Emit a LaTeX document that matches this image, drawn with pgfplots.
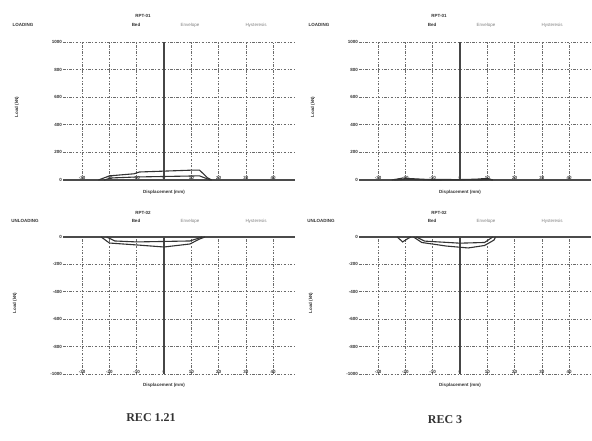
\documentclass[border=0pt]{standalone}
\usepackage{fontspec}
\setmainfont{Liberation Serif}
\setsansfont{Liberation Sans}
\usepackage{pgfplots}
\pgfplotsset{compat=1.18}

\definecolor{ink}{gray}{0.2}
\definecolor{gridc}{gray}{0.42}

\newcommand{\tinyfont}{\fontsize{4.5}{4.5}\selectfont\sffamily\bfseries}

\pgfplotsset{
  panel/.style={
    scale only axis, anchor=south west,
    width=232pt, height=138pt,
    xmin=-37, xmax=48,
    xtick={-30,-20,-10,0,10,20,30,40},
    axis line style={draw=none},
    major tick style={draw=none},
    grid=major,
    grid style={gridc, dash pattern=on 2.5pt off 1.5pt on 0.8pt off 1.5pt, line width=0.7pt},
    tick label style={font=\tinyfont, text=ink},
    /pgf/number format/assume math mode=true,
    /pgf/number format/1000 sep={},
    xticklabel style={yshift=4pt, inner sep=0.5pt},
    yticklabel style={inner sep=1pt},
    clip=false,
  },
  curve/.style={ink, line width=1.1pt, no marks},
  base/.style={gridc!70!black, line width=1.3pt, no marks},
  zero/.style={gray!55!black, line width=1.6pt, no marks},
}

\begin{document}
\begin{tikzpicture}[x=1pt,y=1pt]
\path[use as bounding box] (0,0) rectangle (592,440);

% ---- loading, REC 1.21 ----
\begin{axis}[panel, at={(63pt,260pt)}, ymin=0, ymax=1000, ytick={0,200,400,600,800,1000}]
\addplot[base] coordinates {(-37,0) (48,0)};
\addplot[zero] coordinates {(0,0) (0,1000)};
\addplot[curve] coordinates {(-24,0) (-20,30) (-11,45) (-9,58) (11,72) (13,72) (16,15) (17.5,0)};
\addplot[curve] coordinates {(-22,0) (-19,15) (-10,22) (13,30) (17,0)};
\end{axis}

% ---- loading, REC 3 ----
\begin{axis}[panel, at={(359pt,260pt)}, ymin=0, ymax=1000, ytick={0,200,400,600,800,1000}]
\addplot[base] coordinates {(-37,0) (48,0)};
\addplot[zero] coordinates {(0,0) (0,1000)};
\addplot[curve] coordinates {(-25,0) (-21,14) (-18,10) (-12,4) (0,3) (6,6) (10,12) (12,0)};
\addplot[curve] coordinates {(-24,0) (-20,6) (-10,0) (8,2) (11,5) (12,0)};
\end{axis}

% ---- unloading, REC 1.21 ----
\begin{axis}[panel, at={(63pt,66pt)}, height=137pt, ymin=-1000, ymax=0, ytick={-1000,-800,-600,-400,-200,0}]
\addplot[base] coordinates {(-37,0) (48,0)};
\addplot[zero] coordinates {(0,0) (0,-1000)};
\addplot[curve] coordinates {(-23,0) (-20,-44) (-10,-58) (0,-73) (9.5,-51) (13,-15) (15,0)};
\addplot[curve] coordinates {(-21,0) (-18,-29) (-10,-36) (9.5,-29) (14,0)};
\end{axis}

% ---- unloading, REC 3 ----
\begin{axis}[panel, at={(359pt,66pt)}, height=137pt, ymin=-1000, ymax=0, ytick={-1000,-800,-600,-400,-200,0}]
\addplot[base] coordinates {(-37,0) (48,0)};
\addplot[zero] coordinates {(0,0) (0,-1000)};
\addplot[curve] coordinates {(-23,0) (-21,-36) (-19,-10) (-18,0)};
\addplot[curve] coordinates {(-17,0) (-14,-40) (-5,-66) (3,-80) (9,-62) (12.5,-22) (13,0)};
\addplot[curve] coordinates {(-16,0) (-13,-30) (0,-45) (9,-40) (12,0)};
\end{axis}

% ---- panel texts ----
\tikzset{small/.style={font=\fontsize{4.5}{4.5}\selectfont\sffamily\bfseries, text=ink, inner sep=0pt},
         faint/.style={font=\fontsize{4.5}{4.5}\selectfont\sffamily, text=gray, inner sep=0pt}}
\foreach \dx in {0, 296} {
  % loading row
  \node[small] at (23+\dx,415) {LOADING};
  \node[small] at (143+\dx,424) {RPT-01};
  \node[small] at (136+\dx,415) {Bed};
  \node[faint] at (190+\dx,415) {Envelope};
  \node[faint] at (256+\dx,415) {Hysteresis};
  \node[small, rotate=90] at (17+\dx,333) {Load (kN)};
  \node[small] at (164+\dx,248) {Displacement (mm)};
  % unloading row
  \node[small] at (25+\dx,219) {UNLOADING};
  \node[small] at (143+\dx,227) {RPT-02};
  \node[small] at (136+\dx,219) {Bed};
  \node[faint] at (190+\dx,219) {Envelope};
  \node[faint] at (256+\dx,219) {Hysteresis};
  \node[small, rotate=90] at (15+\dx,137) {Load (kN)};
  \node[small] at (164+\dx,55) {Displacement (mm)};
}

% ---- captions ----
\node[font=\fontsize{12}{12}\selectfont\bfseries, text=black!80] at (151,22) {REC 1.21};
\node[font=\fontsize{12}{12}\selectfont\bfseries, text=black!80] at (445,20) {REC 3};
\end{tikzpicture}
\end{document}
